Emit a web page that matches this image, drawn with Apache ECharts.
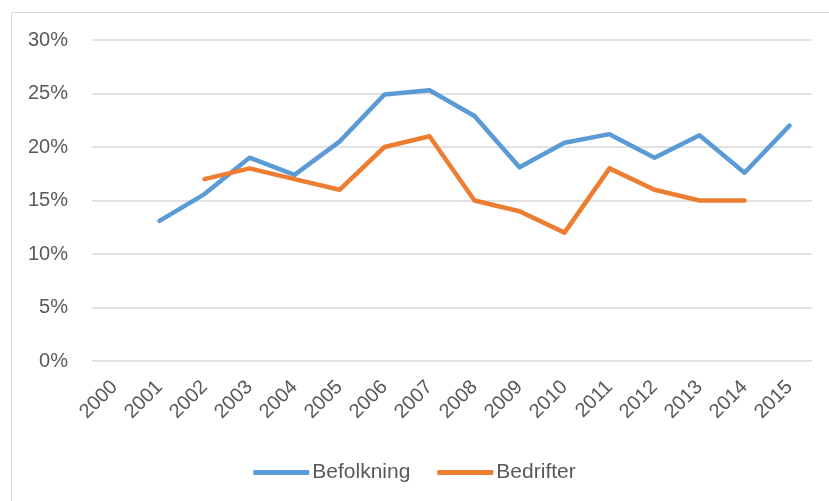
<html>
<head>
<meta charset="utf-8" />
<title></title>
<script type="text/javascript" src="https://cdn.jsdelivr.net/npm/echarts/dist/echarts.min.js"></script>
<style>
html, body, #main { padding: 0; margin: 0; width: 100%; height: 100%; background: #fff; }
</style>
</head>
<body>
<div id="main"></div>
<script type="text/javascript">
// data (percent)
var years = ['2000','2001','2002','2003','2004','2005','2006','2007','2008','2009','2010','2011','2012','2013','2014','2015'];
var befolkning = [null, 13.1, 15.6, 19.0, 17.4, 20.5, 24.9, 25.3, 22.9, 18.1, 20.4, 21.2, 19.0, 21.1, 17.6, 22.0];
var bedrifter = [null, null, 17, 18, 17, 16, 20, 21, 15, 14, 12, 18, 16, 15, 15, null];
var yTicks = { min: 0, max: 30, step: 5 };

var textColor = '#595959';
var font = 'Liberation Sans';

var mychart = echarts.init(document.getElementById('main'));
var option = {
	animation: false,
	textStyle: { fontFamily: font },
	graphic: [{
		type: 'rect',
		left: 9, top: 10,
		shape: { width: 840, height: 520 },
		style: { fill: 'none', stroke: '#d9d9d9', lineWidth: 1 },
		silent: true
	}],
	grid: { left: 92, right: 17, top: 40, bottom: 140, containLabel: false },
	legend: {
		bottom: 13,
		left: 'center',
		icon: 'roundRect',
		itemWidth: 56,
		itemHeight: 5,
		itemGap: 27,
		textStyle: { color: textColor, fontSize: 21, fontFamily: font, padding: [0, 0, 0, -2] },
		data: ['Befolkning', 'Bedrifter']
	},
	xAxis: {
		type: 'category',
		data: years,
		boundaryGap: true,
		axisLine: { show: false },
		axisTick: { show: false },
		axisLabel: { rotate: 45, margin: 23, color: textColor, fontSize: 20, fontFamily: font }
	},
	yAxis: {
		type: 'value',
		min: yTicks.min,
		max: yTicks.max,
		interval: yTicks.step,
		axisLine: { show: false },
		axisTick: { show: false },
		axisLabel: { formatter: '{value}%', margin: 24, color: textColor, fontSize: 20, fontFamily: font },
		splitLine: { lineStyle: { color: '#d9d9d9', width: 1.5 } }
	},
	series: [{
		name: 'Befolkning',
		type: 'line',
		data: befolkning,
		symbol: 'none',
		color: '#5b9bd5',
		lineStyle: { width: 4.5, cap: 'round', join: 'round' }
	}, {
		name: 'Bedrifter',
		type: 'line',
		data: bedrifter,
		symbol: 'none',
		color: '#ed7d31',
		lineStyle: { width: 4.5, cap: 'round', join: 'round' }
	}]
};
mychart.setOption(option);
</script>
</body>
</html>
